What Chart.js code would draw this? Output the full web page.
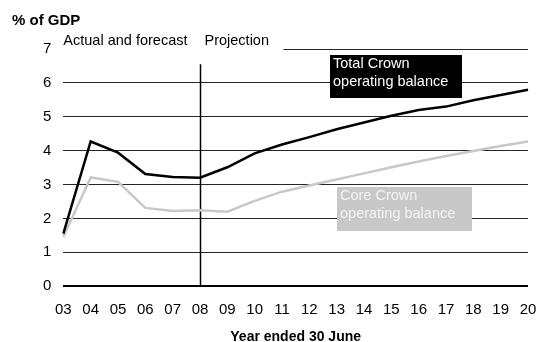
<!DOCTYPE html>
<html>
<head>
<meta charset="utf-8">
<style>
  html, body { margin: 0; padding: 0; background: #fff; }
  canvas { display: block; }
</style>
</head>
<body>
<canvas id="chart" width="539" height="342"></canvas>
<script src="https://cdn.jsdelivr.net/npm/chart.js@4/dist/chart.umd.min.js"></script>
<script>
(function () {
  var FONT = '"Liberation Sans", Arial, Helvetica, sans-serif';

  // Years ended 30 June (2003-2020)
  var years = ["03", "04", "05", "06", "07", "08", "09", "10", "11", "12",
               "13", "14", "15", "16", "17", "18", "19", "20"];
  // Operating balance, % of GDP
  var totalCrown = [1.55, 4.27, 3.94, 3.31, 3.22, 3.20, 3.51, 3.92, 4.18, 4.40,
                    4.63, 4.83, 5.03, 5.20, 5.30, 5.49, 5.64, 5.80];
  var coreCrown = [1.45, 3.21, 3.08, 2.31, 2.22, 2.24, 2.20, 2.52, 2.79, 2.97,
                   3.15, 3.33, 3.51, 3.68, 3.84, 3.99, 4.14, 4.27];
  var yMin = 0, yMax = 7, yStep = 1;
  var projectionStart = "08";
  var dividerTop = 6.55;

  var black = "#000000";
  var grey = "#c8c8c8";

  // section headings over the plot, with the divider between them
  var headings = {
    id: "headings",
    beforeDatasetsDraw: function (chart) {
      var ctx = chart.ctx;
      var area = chart.chartArea;
      var x = chart.scales.x;
      var y = chart.scales.y;
      var xDiv = Math.round(x.getPixelForValue(years.indexOf(projectionStart))) + 0.5;
      ctx.save();
      ctx.fillStyle = "#fff";
      ctx.fillRect(area.left - 2, area.top - 12, xDiv + 85 - area.left, 22);
      ctx.strokeStyle = black;
      ctx.lineWidth = 1.5;
      ctx.beginPath();
      ctx.moveTo(xDiv, y.getPixelForValue(dividerTop));
      ctx.lineTo(xDiv, area.bottom);
      ctx.stroke();
      ctx.fillStyle = black;
      ctx.font = "14.5px " + FONT;
      ctx.textBaseline = "middle";
      ctx.textAlign = "left";
      ctx.fillText("Actual and forecast", area.left, area.top - 8);
      ctx.fillText("Projection", xDiv + 4, area.top - 8);
      ctx.restore();
    },
    afterDatasetsDraw: function (chart) {
      var ctx = chart.ctx;
      var x = chart.scales.x;
      var y = chart.scales.y;
      function box(i0, i1, v0, v1, bg, fg, lines) {
        var l = Math.round(x.getPixelForValue(i0));
        var r = Math.round(x.getPixelForValue(i1));
        var t = Math.round(y.getPixelForValue(v0));
        var b = Math.round(y.getPixelForValue(v1));
        ctx.fillStyle = bg;
        ctx.fillRect(l, t, r - l, b - t);
        ctx.fillStyle = fg;
        ctx.font = "14.5px " + FONT;
        ctx.textBaseline = "middle";
        ctx.textAlign = "left";
        for (var k = 0; k < lines.length; k++) {
          ctx.fillText(lines[k], l + 3, t + 9 + k * 18);
        }
      }
      ctx.save();
      box(9.76, 14.6, 6.82, 5.55, black, "#fff", ["Total Crown", "operating balance"]);
      box(10.02, 14.95, 2.94, 1.63, grey, "#f4f4f4", ["Core Crown", "operating balance"]);
      ctx.restore();
    },
    afterDraw: function (chart) {
      var ctx = chart.ctx;
      ctx.save();
      ctx.fillStyle = black;
      ctx.font = "bold 15px " + FONT;
      ctx.textBaseline = "middle";
      ctx.textAlign = "left";
      ctx.fillText("% of GDP", 12, 21);
      ctx.restore();
    }
  };

  new Chart(document.getElementById("chart"), {
    type: "line",
    data: {
      labels: years,
      datasets: [
        {
          label: "Total Crown operating balance",
          data: totalCrown,
          borderColor: black,
          borderWidth: 2.5,
          tension: 0,
          pointRadius: 0,
          fill: false,
        },
        {
          label: "Core Crown operating balance",
          data: coreCrown,
          borderColor: grey,
          borderWidth: 2.5,
          tension: 0,
          pointRadius: 0,
          fill: false,
        },
      ],
    },
    options: {
      responsive: false,
      animation: false,
      layout: { padding: { top: 49, left: 31, right: 11, bottom: 0 } },
      plugins: {
        legend: { display: false },
        tooltip: { enabled: false },
      },
      scales: {
        x: {
          type: "category",
          offset: false,
          grid: { display: false, drawTicks: false },
          border: { display: false },
          ticks: {
            color: black,
            font: { family: FONT, size: 15 },
            padding: 15,
            maxRotation: 0,
            autoSkip: false,
          },
          title: {
            display: true,
            text: "Year ended 30 June",
            color: black,
            font: { family: FONT, size: 14, weight: "bold" },
            padding: { top: -5, bottom: -4 },
          },
          afterFit: function (scale) {
            scale.paddingRight = 0;
          },
        },
        y: {
          min: yMin,
          max: yMax,
          grid: {
            drawTicks: false,
            color: function (c) { return c.tick && c.tick.value === 0 ? black : "#262626"; },
            lineWidth: function (c) { return c.tick && c.tick.value === 0 ? 2 : 1; },
          },
          border: { display: false },
          ticks: {
            stepSize: yStep,
            color: black,
            font: { family: FONT, size: 15 },
            padding: 12,
          },
        },
      },
    },
    plugins: [headings],
  });
})();
</script>
</body>
</html>
